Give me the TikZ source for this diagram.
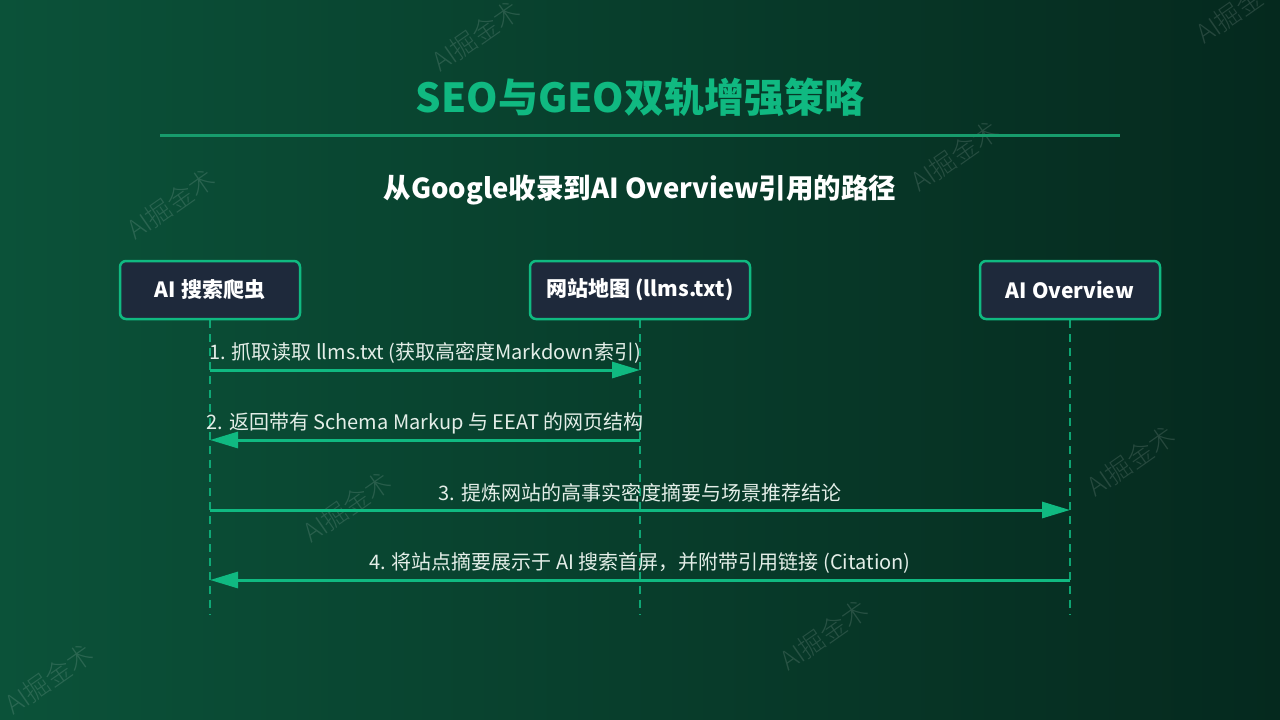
\documentclass[tikz,border=0pt]{standalone}
\usepackage{fontspec}
\setmainfont{Noto Sans CJK SC}
\newfontfamily\markfont{Noto Sans CJK SC Light}
\usepackage{tikz}
\usetikzlibrary{arrows.meta, positioning}

\definecolor{bgleft}{HTML}{0B5239}
\definecolor{bgright}{HTML}{05291E}
\definecolor{emerald}{HTML}{10B981}
\definecolor{rulegreen}{HTML}{179C6C}
\definecolor{slatebox}{HTML}{1E293B}
\definecolor{msgtext}{HTML}{E4EEE8}

\tikzset{
  actor/.style = {draw=emerald, line width=2.5pt, fill=slatebox, rounded corners=6pt,
                  minimum height=58pt, text=white, font=\fontsize{21}{25}\selectfont\bfseries},
  lifeline/.style = {emerald, opacity=.85, line width=2.5pt, dash pattern=on 8pt off 6pt},
  msg/.style = {emerald, line width=3pt, -{Triangle[length=28pt,width=16pt]}},
  msglabel/.style = {text=msgtext, font=\fontsize{20}{24}\selectfont, inner sep=0pt},
  watermark/.style = {text=white, opacity=.13, rotate=35, font=\markfont\fontsize{26}{30}\selectfont}
}

\begin{document}
\begin{tikzpicture}[x=1pt, y=-1pt]
\shade[left color=bgleft, right color=bgright] (0,0) rectangle (1280,720);
\useasboundingbox (0,0) rectangle (1280,720);

% watermarks
\foreach \wx/\wy in {171/204, 476/36, 955/156, 1240/8, 347/507, 1131/461, 824/635, 49/679}
  \node[watermark] at (\wx,\wy) {AI掘金术};

% title and subtitle
\node[text=emerald, font=\fontsize{40}{46}\selectfont\bfseries] (title) at (640,97) {SEO与GEO双轨增强策略};
\draw[rulegreen, line width=3pt] (160,135) coordinate (rule-l) -- (1120,135) coordinate (rule-r);
\node[text=white, font=\fontsize{27.5}{32}\selectfont\bfseries] (subtitle) at (640,190) {从Google收录到AI Overview引用的路径};

% actors
\node[actor, minimum width=180pt] (crawler) at (210,290) {AI 搜索爬虫};
\node[actor, minimum width=220pt] (sitemap) at (640,290) {网站地图 (llms.txt)};
\node[actor, minimum width=180pt] (overview) at (1070,290) {AI Overview};

% lifelines
\foreach \a in {crawler, sitemap, overview}{
  \coordinate (\a-end) at (\a.south |- 0,615);
  \draw[lifeline] (\a.south) -- (\a-end);
  \foreach \k/\ky in {1/370, 2/440, 3/510, 4/580}
    \coordinate (\a-\k) at (\a.south |- 0,\ky);
}

% messages
\draw[msg] (crawler-1) -- (sitemap-1)
  node[msglabel, midway, yshift=17pt] {1. 抓取读取 llms.txt (获取高密度Markdown索引)};
\draw[msg] (sitemap-2) -- (crawler-2)
  node[msglabel, midway, yshift=17pt] {2. 返回带有 Schema Markup 与 EEAT 的网页结构};
\draw[msg] (crawler-3) -- (overview-3)
  node[msglabel, midway, yshift=17pt] {3. 提炼网站的高事实密度摘要与场景推荐结论};
\draw[msg] (overview-4) -- (crawler-4)
  node[msglabel, midway, yshift=17pt] {4. 将站点摘要展示于 AI 搜索首屏，并附带引用链接 (Citation)};
\end{tikzpicture}
\end{document}
